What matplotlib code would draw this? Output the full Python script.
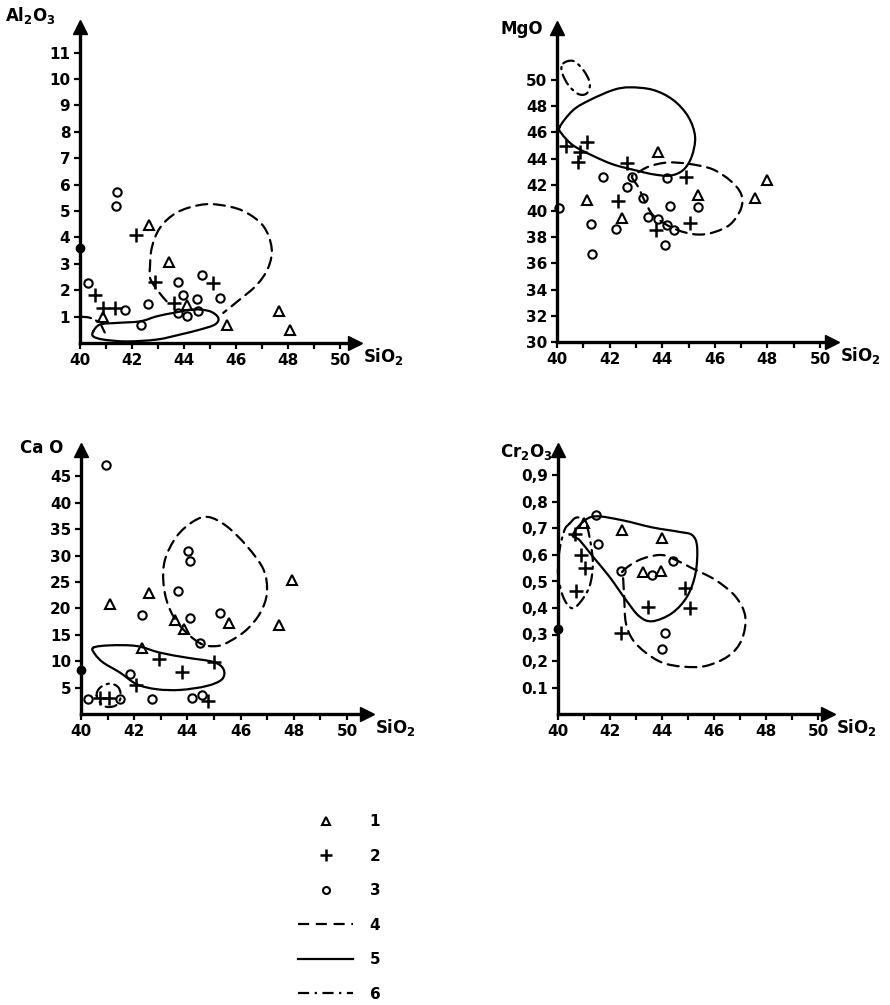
import numpy as np
import matplotlib
matplotlib.use("Agg")
import matplotlib.pyplot as plt
from matplotlib.path import Path
from matplotlib.patches import PathPatch
from matplotlib.lines import Line2D

plt.rcParams['font.family'] = ['DejaVu Sans']
plt.rcParams['font.weight'] = 'bold'
plt.rcParams['mathtext.default'] = 'regular'

# ---- Al2O3 vs SiO2
al_tri_x = [40.9, 42.67, 43.43, 44.1, 45.64, 47.67, 48.08]
al_tri_y = [1.0, 4.47, 3.08, 1.44, 0.68, 1.22, 0.49]
al_plus_x = [40.58, 40.9, 41.35, 42.15, 42.88, 43.6, 45.13]
al_plus_y = [1.82, 1.31, 1.31, 4.09, 2.32, 1.5, 2.26]
al_circ_x = [40.32, 41.41, 41.38, 41.73, 42.35, 42.63, 43.76, 43.97, 43.76, 44.13, 44.51, 44.55, 44.68, 45.38]
al_circ_y = [2.26, 5.71, 5.2, 1.25, 0.68, 1.48, 2.32, 1.82, 1.15, 1.02, 1.65, 1.22, 2.58, 1.69]
al_dot_y = 3.6
al_dash_x = [43.33, 42.95, 42.69, 42.69, 42.76, 43.08, 43.72, 44.62, 45.38, 46.28, 47.05, 47.37, 47.24, 46.8, 46.15, 45.51]
al_dash_y = [1.58, 2.03, 2.47, 2.85, 3.6, 4.37, 4.94, 5.23, 5.23, 5.0, 4.43, 3.6, 2.85, 2.2, 1.65, 1.14]
al_solid_x = [40.51, 40.77, 41.41, 42.31, 42.95, 43.59, 44.36, 45.0, 45.32, 45.19, 44.62, 43.85, 42.95, 41.79, 40.9, 40.51]
al_solid_y = [0.44, 0.7, 0.76, 0.82, 1.01, 1.14, 1.27, 1.2, 0.95, 0.7, 0.51, 0.32, 0.13, 0.06, 0.13, 0.25]
al_dd_x = [40.0, 40.4, 40.75, 40.95]
al_dd_y = [1.0, 0.95, 0.75, 0.4]

# ---- MgO vs SiO2
mg_tri_x = [43.85, 41.15, 42.46, 45.37, 47.53, 47.97]
mg_tri_y = [44.53, 40.84, 39.44, 41.2, 40.97, 42.37]
mg_plus_x = [40.34, 40.87, 41.13, 40.81, 42.65, 42.33, 44.9, 45.06, 43.76]
mg_plus_y = [44.96, 44.53, 45.29, 43.72, 43.64, 40.76, 42.62, 39.1, 38.55]
mg_circ_x = [40.08, 41.76, 41.28, 41.32, 42.67, 42.84, 43.26, 43.47, 43.85, 42.23, 44.17, 44.3, 44.17, 44.45, 44.1, 45.37]
mg_circ_y = [40.2, 42.62, 39.0, 36.72, 41.8, 42.62, 40.97, 39.52, 39.37, 38.63, 42.5, 40.38, 38.93, 38.55, 37.4, 40.28]
mg_dd_x = [40.24, 40.62, 41.0, 41.25, 41.13, 40.81, 40.43, 40.18]
mg_dd_y = [51.27, 51.45, 50.76, 49.75, 48.98, 48.93, 49.62, 50.64]
mg_solid_x = [40.11, 40.62, 41.25, 42.14, 42.78, 43.66, 44.42, 44.99, 45.25, 45.12, 44.8, 44.3, 43.66, 43.0, 42.14, 41.38, 40.62, 40.18]
mg_solid_y = [46.44, 47.71, 48.47, 49.24, 49.44, 49.24, 48.47, 47.2, 45.67, 44.15, 43.13, 42.7, 42.8, 43.1, 43.55, 44.2, 45.0, 45.9]
mg_dash_x = [42.85, 43.1, 43.3, 43.6, 43.9, 44.3, 44.8, 45.4, 46.0, 46.6, 47.0, 47.0, 46.6, 45.9, 45.0, 44.2, 43.5, 43.05]
mg_dash_y = [42.6, 41.8, 40.9, 39.8, 39.3, 38.8, 38.4, 38.2, 38.4, 39.0, 40.2, 41.3, 42.3, 43.2, 43.6, 43.7, 43.4, 42.9]

# ---- CaO vs SiO2
ca_tri_x = [41.09, 42.57, 43.54, 43.89, 45.55, 47.45, 47.94, 42.28]
ca_tri_y = [20.75, 22.83, 17.79, 16.02, 17.28, 16.84, 25.47, 12.56]
ca_plus_x = [40.72, 41.07, 42.07, 42.95, 43.79, 45.0, 44.79]
ca_plus_y = [3.0, 3.1, 5.5, 10.5, 8.0, 9.85, 2.46]
ca_circ_x = [40.94, 40.28, 41.47, 41.84, 42.66, 42.28, 43.64, 44.04, 44.1, 44.08, 45.21, 44.48, 44.17, 44.54]
ca_circ_y = [47.2, 2.8, 2.8, 7.5, 2.8, 18.73, 23.39, 30.83, 28.94, 18.1, 19.05, 13.38, 3.0, 3.55]
ca_dot_y = 8.3
ca_dash_x = [44.48, 43.73, 43.29, 43.1, 43.16, 43.6, 44.23, 44.79, 45.48, 46.24, 46.86, 46.99, 46.74, 46.24, 45.61, 45.11]
ca_dash_y = [13.38, 16.65, 20.43, 24.84, 29.25, 33.66, 36.5, 37.31, 35.55, 31.77, 27.36, 22.95, 19.17, 16.02, 13.82, 12.87]
ca_solid_x = [40.46, 41.09, 42.1, 42.97, 43.98, 44.98, 45.36, 45.3, 44.73, 43.73, 42.85, 42.1, 41.47, 40.84, 40.53]
ca_solid_y = [12.56, 13.0, 12.87, 11.61, 10.67, 9.85, 8.46, 6.57, 5.31, 4.56, 4.69, 5.63, 7.83, 9.72, 11.3]
ca_dd_x = [40.59, 40.72, 41.09, 41.41, 41.49, 41.28, 40.84]
ca_dd_y = [3.46, 5.0, 5.76, 5.0, 3.11, 1.54, 1.54]

# ---- Cr2O3 vs SiO2
cr_tri_x = [40.99, 42.48, 44.01, 43.25, 43.97]
cr_tri_y = [0.721, 0.696, 0.663, 0.5375, 0.541]
cr_plus_x = [40.66, 40.89, 41.04, 40.7, 44.88, 43.48, 45.07, 42.42]
cr_plus_y = [0.679, 0.6, 0.55, 0.466, 0.475, 0.404, 0.4, 0.304]
cr_circ_x = [41.46, 41.53, 42.42, 43.63, 44.43, 44.1, 44.01]
cr_circ_y = [0.75, 0.64, 0.541, 0.525, 0.579, 0.304, 0.244]
cr_dot_y = 0.32
cr_solid_x = [40.57, 40.96, 41.46, 42.48, 43.63, 44.65, 45.16, 45.35, 45.29, 44.97, 44.39, 43.63, 43.12, 42.61, 41.97, 41.34, 40.83]
cr_solid_y = [0.675, 0.725, 0.746, 0.731, 0.704, 0.6875, 0.675, 0.631, 0.531, 0.444, 0.381, 0.35, 0.369, 0.431, 0.519, 0.594, 0.656]
cr_dd_x = [40.45, 40.7, 41.02, 41.21, 41.34, 41.21, 40.83, 40.51, 40.19, 40.0, 40.06, 40.25]
cr_dd_y = [0.719, 0.741, 0.731, 0.669, 0.569, 0.481, 0.419, 0.4, 0.444, 0.531, 0.619, 0.694]
cr_dash_x = [42.48, 43.12, 43.89, 44.39, 45.16, 46.05, 46.82, 47.2, 47.07, 46.56, 45.67, 44.78, 44.01, 43.38, 42.87, 42.61, 42.55, 42.51]
cr_dash_y = [0.5375, 0.581, 0.6, 0.5875, 0.55, 0.506, 0.444, 0.369, 0.281, 0.219, 0.181, 0.179, 0.194, 0.231, 0.281, 0.344, 0.431, 0.506]

x_ticks = [40, 42, 44, 46, 48, 50]
legend_labels = ['1', '2', '3', '4', '5', '6']

DASH = (0, (5, 3))
DASHDOT = (0, (5, 2.5, 1, 2.5))


def smooth_path(xs, ys, closed=True):
    # catmull-rom through the read points, drawn as bezier path
    p = np.column_stack([xs, ys]).astype(float)
    if closed:
        pts = np.vstack([p[-1], p, p[0], p[1]])
    else:
        pts = np.vstack([p[0], p, p[-1]])
    verts = [pts[1]]
    codes = [Path.MOVETO]
    for i in range(1, len(pts) - 2):
        p0, p1, p2, p3 = pts[i - 1], pts[i], pts[i + 1], pts[i + 2]
        verts += [p1 + (p2 - p0) / 6, p2 - (p3 - p1) / 6, p2]
        codes += [Path.CURVE4] * 3
    return Path(verts, codes)


def curve(ax, xs, ys, ls, closed=True):
    ax.add_patch(PathPatch(smooth_path(xs, ys, closed), fill=False, lw=1.6,
                           ls=ls, ec='black', capstyle='round', clip_on=False))


def points(ax, tx, ty, px, py, cx, cy):
    ax.plot(tx, ty, '^', ms=7, mfc='none', mec='black', mew=1.5, ls='none', clip_on=False)
    ax.plot(px, py, '+', ms=10, mec='black', mew=1.8, ls='none', clip_on=False)
    ax.plot(cx, cy, 'o', ms=6, mfc='none', mec='black', mew=1.5, ls='none', clip_on=False)


def setup(ax, xmax, ylim, yticks, ylabels):
    ax.set_xlim(40, xmax)
    ax.set_ylim(*ylim)
    for s in ['top', 'right']:
        ax.spines[s].set_visible(False)
    for s in ['left', 'bottom']:
        ax.spines[s].set_linewidth(2.4)
    ax.set_xticks(x_ticks)
    ax.set_xticks(range(41, 51), minor=True)
    ax.set_yticks(yticks)
    ax.set_yticklabels(ylabels)
    ax.tick_params(which='both', direction='out', length=4, width=1.6, labelsize=11, pad=3)
    ax.plot(1, 0, '>k', ms=10, transform=ax.transAxes, clip_on=False)
    ax.plot(0, 1, '^k', ms=10, transform=ax.transAxes, clip_on=False)
    ax.annotate('SiO$_2$', xy=(1, 0), xycoords='axes fraction', xytext=(6, -10),
                textcoords='offset points', ha='left', va='center', fontsize=12)


fig = plt.figure(figsize=(8.9, 10.05), dpi=100)
W, H = 890.0, 1005.0

# Al2O3
ax1 = fig.add_axes([80 / W, 1 - 343 / H, 275 / W, 316 / H])
setup(ax1, 40 + 275 / 26.0, (0, 316 / 26.4), range(1, 12), [str(v) for v in range(1, 12)])
curve(ax1, al_dash_x, al_dash_y, DASH, closed=False)
curve(ax1, al_solid_x, al_solid_y, '-')
curve(ax1, al_dd_x, al_dd_y, DASHDOT, closed=False)
points(ax1, al_tri_x, al_tri_y, al_plus_x, al_plus_y, al_circ_x, al_circ_y)
ax1.plot([40], [al_dot_y], 'o', ms=6, color='black', clip_on=False)
fig.text(5 / W, 1 - 15 / H, 'Al$_2$O$_3$', fontsize=12, va='center', ha='left')

# MgO
ax2 = fig.add_axes([557 / W, 1 - 342 / H, 275 / W, 314 / H])
setup(ax2, 40 + 275 / 26.3, (30, 30 + 314 / 13.1), range(30, 51, 2), [str(v) for v in range(30, 51, 2)])
curve(ax2, mg_dd_x, mg_dd_y, DASHDOT)
curve(ax2, mg_solid_x, mg_solid_y, '-')
curve(ax2, mg_dash_x, mg_dash_y, DASH)
points(ax2, mg_tri_x, mg_tri_y, mg_plus_x, mg_plus_y, mg_circ_x, mg_circ_y)
fig.text(500 / W, 1 - 29 / H, 'MgO', fontsize=12, va='center', ha='left')

# CaO
ax3 = fig.add_axes([81 / W, 1 - 714 / H, 286 / W, 264 / H])
setup(ax3, 40 + 286 / 26.6, (0, 50), range(5, 46, 5), [str(v) for v in range(5, 46, 5)])
curve(ax3, ca_dash_x, ca_dash_y, DASH)
curve(ax3, ca_solid_x, ca_solid_y, '-')
curve(ax3, ca_dd_x, ca_dd_y, DASHDOT)
points(ax3, ca_tri_x, ca_tri_y, ca_plus_x, ca_plus_y, ca_circ_x, ca_circ_y)
ax3.plot([40], [ca_dot_y], 'o', ms=6, color='black', clip_on=False)
fig.text(20 / W, 1 - 448 / H, 'Ca O', fontsize=12, va='center', ha='left')

# Cr2O3
cr_ticks = [0.1, 0.2, 0.3, 0.4, 0.5, 0.6, 0.7, 0.8, 0.9]
cr_tick_labels = ['0.1', '0,2', '0,3', '0,4', '0,5', '0,6', '0,7', '0,8', '0,9']
ax4 = fig.add_axes([558 / W, 1 - 714 / H, 270 / W, 264 / H])
setup(ax4, 40 + 270 / 26.0, (0, 264 / 265.0), cr_ticks, cr_tick_labels)
curve(ax4, cr_dd_x, cr_dd_y, DASHDOT)
curve(ax4, cr_solid_x, cr_solid_y, '-')
curve(ax4, cr_dash_x, cr_dash_y, DASH)
points(ax4, cr_tri_x, cr_tri_y, cr_plus_x, cr_plus_y, cr_circ_x, cr_circ_y)
ax4.plot([40], [cr_dot_y], 'o', ms=6, color='black', clip_on=False)
fig.text(500 / W, 1 - 452 / H, 'Cr$_2$O$_3$', fontsize=12, va='center', ha='left')

# legend
handles = [
    Line2D([], [], marker='^', ms=6, mfc='none', mec='black', mew=1.5, ls='none'),
    Line2D([], [], marker='+', ms=9, mec='black', mew=1.8, ls='none'),
    Line2D([], [], marker='o', ms=5, mfc='none', mec='black', mew=1.5, ls='none'),
    Line2D([], [], color='black', lw=1.6, ls=DASH),
    Line2D([], [], color='black', lw=1.6, ls='-'),
    Line2D([], [], color='black', lw=1.6, ls=DASHDOT),
]
fig.legend(handles, legend_labels, loc='upper left', bbox_to_anchor=(298 / W, 1 - 814 / H),
           frameon=False, fontsize=11, handlelength=3.6, handletextpad=1.1,
           labelspacing=1.28, borderpad=0, borderaxespad=0)

fig.savefig('out.png', dpi=100)
